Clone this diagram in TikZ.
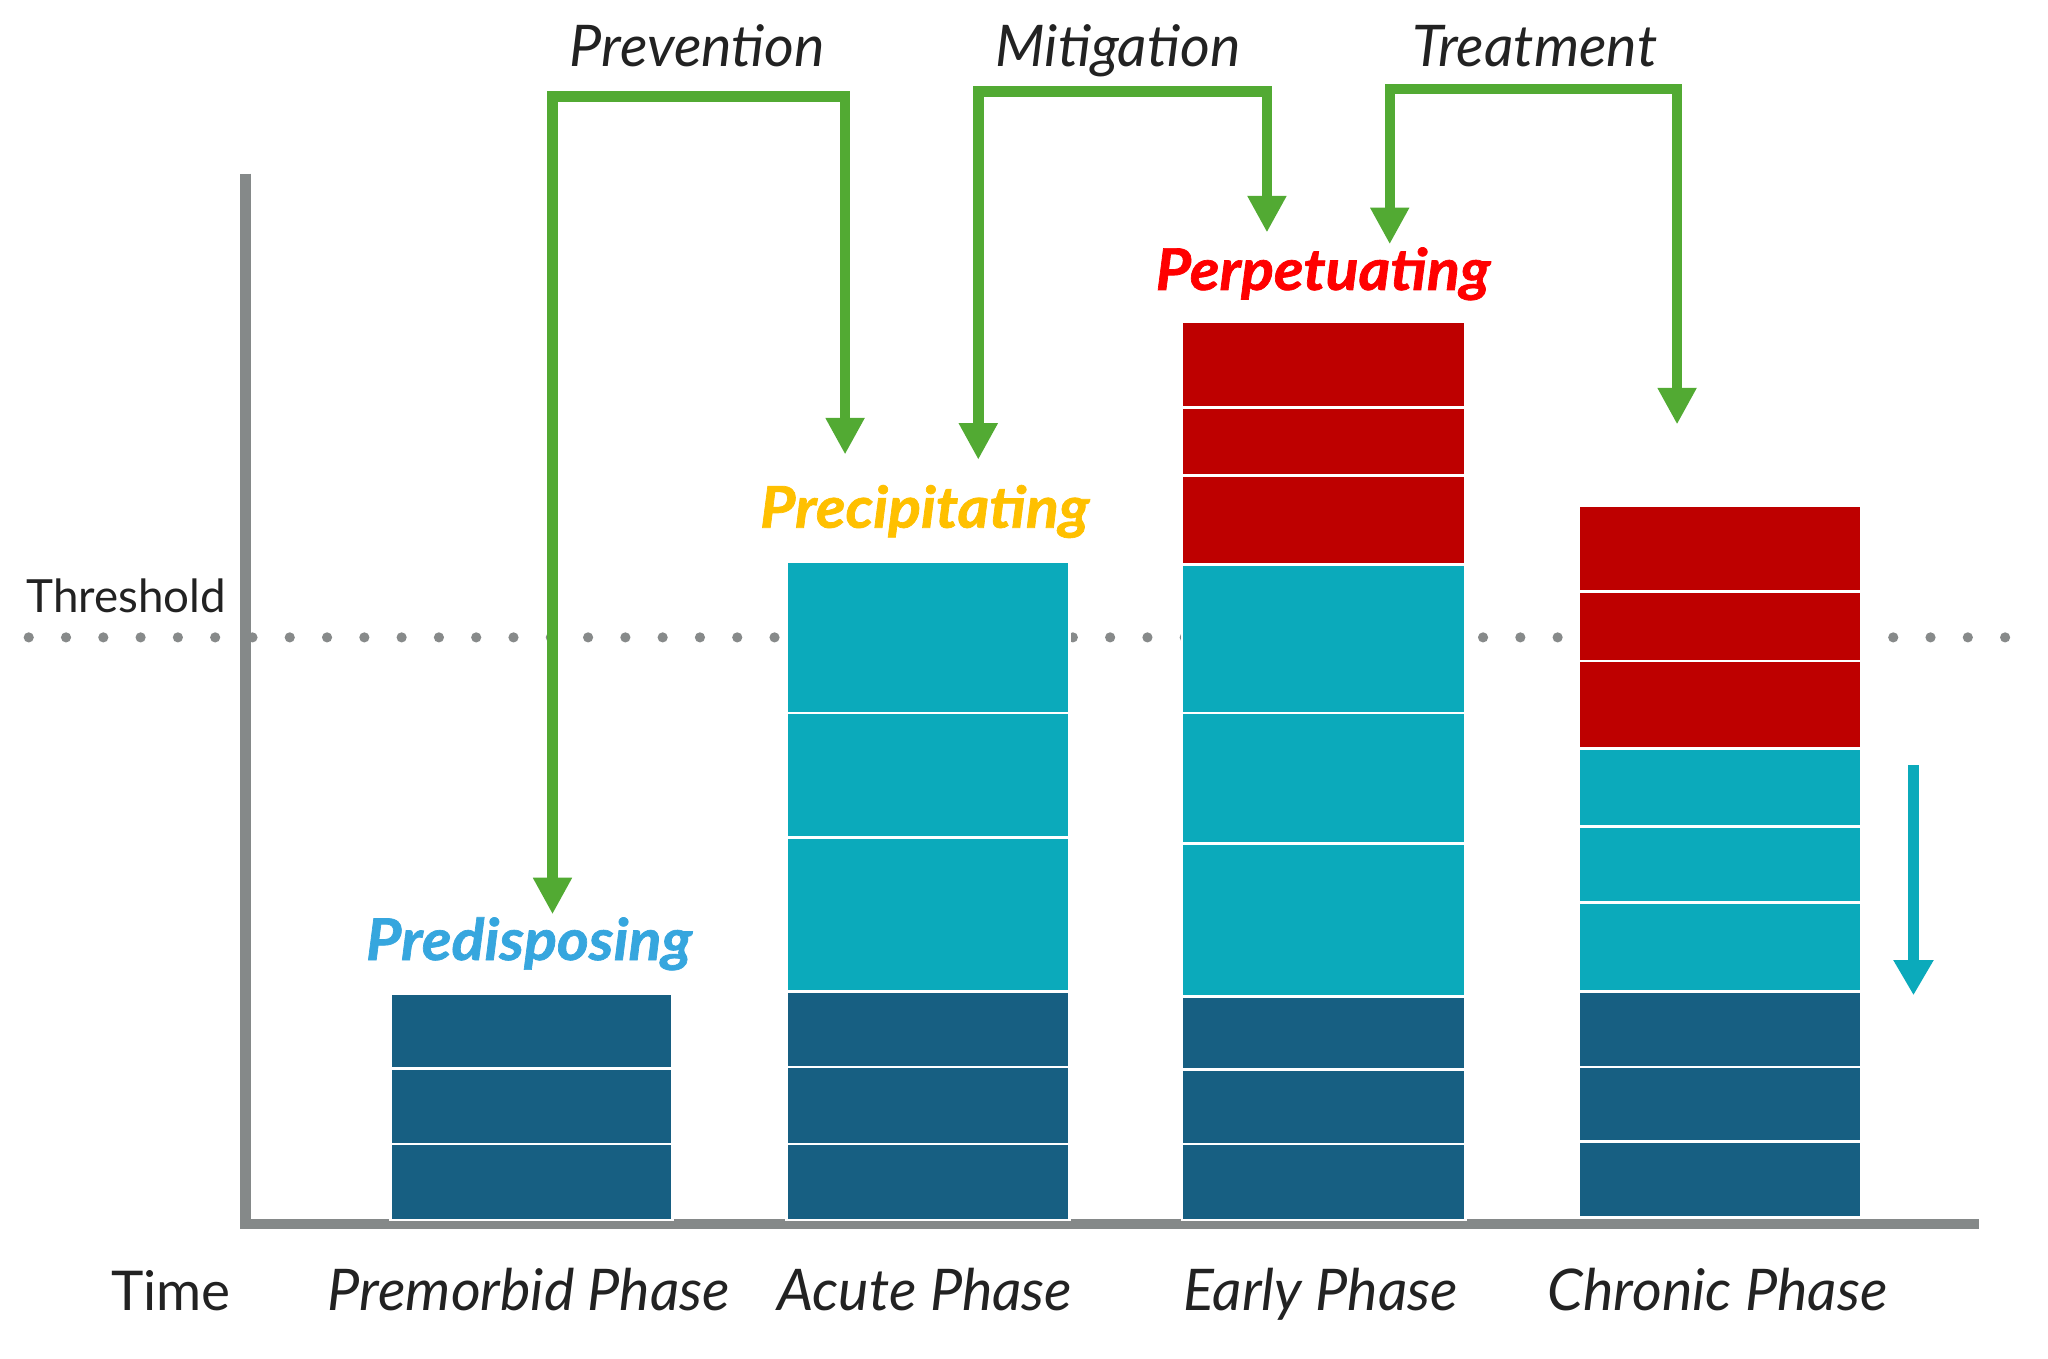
\documentclass[tikz,border=0pt]{standalone}
\usepackage{fontspec}
\setmainfont{Lato}
\newfontfamily\heavyfont[FakeStretch=1.06,FakeBold=1.2]{Lato}
\usetikzlibrary{arrows.meta}
\definecolor{darkblk}{HTML}{175F82}
\definecolor{tealblk}{HTML}{0BAABB}
\definecolor{redblk}{HTML}{BE0000}
\definecolor{arrowgreen}{HTML}{52AA33}
\definecolor{axisgray}{HTML}{858989}
\definecolor{dotgray}{HTML}{878A8A}
\definecolor{textdark}{HTML}{222222}
\definecolor{predblue}{HTML}{36A6DE}
\definecolor{precyellow}{HTML}{FFC000}
\definecolor{perpred}{HTML}{FF0000}
\begin{document}
\begin{tikzpicture}[x=1pt,y=-1pt,
  blk/.style={draw=white,line width=2pt},
  greenarrow/.style={draw=arrowgreen,line width=8pt,line join=miter,
    {Triangle[width=28pt,length=28pt]}-{Triangle[width=28pt,length=28pt]}},
  tealarrow/.style={draw=tealblk,line width=9pt,-{Triangle[width=29pt,length=27pt]}},
  axisline/.style={draw=axisgray,line width=8pt,line join=miter},
  toplabel/.style={font=\fontsize{44}{52}\selectfont\itshape,text=textdark,anchor=base,inner sep=0pt},
  phaselabel/.style={font=\fontsize{44}{52}\selectfont\itshape,text=textdark,anchor=base,inner sep=0pt},
  factorlabel/.style={font=\fontsize{44}{52}\selectfont\heavyfont\bfseries\itshape,anchor=base,inner sep=0pt},
  plainlabel/.style={text=textdark,anchor=base,inner sep=0pt}
]
\useasboundingbox (0,0) rectangle (1568,1040);
\fill[white] (0,0) rectangle (1568,1040);

% threshold dots
\foreach \k in {0,...,53} \fill[dotgray] (22+28.55*\k,488) circle (3.9);

% axes
\coordinate (axtop) at (188,133);
\coordinate (axorigin) at (188,937);
\coordinate (axright) at (1515,937);
\draw[axisline] (axtop) -- (axorigin) -- (axright);

% column 1
\foreach \a/\b/\c in {761/818/darkblk,818/876/darkblk,876/934/darkblk}
  \filldraw[blk,fill=\c] (299,\a) rectangle (515,\b);
% column 2
\foreach \a/\b/\c in {759/817/darkblk,817/876/darkblk,876/934/darkblk,
  430/546/tealblk,546/641/tealblk,641/759/tealblk}
  \filldraw[blk,fill=\c] (602,\a) rectangle (819,\b);
% column 3
\foreach \a/\b/\c in {763/819/darkblk,819/876/darkblk,876/934/darkblk,
  432/546/tealblk,546/646/tealblk,646/763/tealblk,
  246/312/redblk,312/364/redblk,364/432/redblk}
  \filldraw[blk,fill=\c] (905,\a) rectangle (1122,\b);
% column 4
\foreach \a/\b/\c in {759/817/darkblk,817/874/darkblk,874/932/darkblk,
  573/633/tealblk,633/691/tealblk,691/759/tealblk,
  387/453/redblk,453/506/redblk,506/573/redblk}
  \filldraw[blk,fill=\c] (1209,\a) rectangle (1425,\b);

% green brackets
\coordinate (prevA) at (423,700);
\coordinate (prevB) at (647,348);
\coordinate (mitA) at (749,352);
\coordinate (mitB) at (970,178);
\coordinate (treA) at (1064,187);
\coordinate (treB) at (1284,325);
\draw[greenarrow] (prevA) -- (423,74) -- (647,74) -- (prevB);
\draw[greenarrow] (mitA) -- (749,70) -- (970,70) -- (mitB);
\draw[greenarrow] (treA) -- (1064,68) -- (1284,68) -- (treB);

% teal down arrow
\coordinate (tdA) at (1465,586);
\coordinate (tdB) at (1465,762);
\draw[tealarrow] (tdA) -- (tdB);

% labels
\node[toplabel] (prevention) at (534,51) {Prevention};
\node[toplabel] (mitigation) at (856,51) {Mitigation};
\node[toplabel] (treatment) at (1175,51) {Treatment};

\node[factorlabel,text=perpred] (perp) at (1013,222) {Perpetuating};
\node[factorlabel,text=precyellow] (prec) at (708,404) {Precipitating};
\node[factorlabel,text=predblue] (pred) at (405,735) {Predisposing};

\node[plainlabel,anchor=base west,font=\fontsize{35}{42}\selectfont] (threshold) at (20,469) {Threshold};
\node[plainlabel,font=\fontsize{42}{50}\selectfont] (time) at (131,1003) {Time};

\node[phaselabel] (premorbid) at (405,1003) {Premorbid Phase};
\node[phaselabel] (acute) at (708,1003) {Acute Phase};
\node[phaselabel] (early) at (1011,1003) {Early Phase};
\node[phaselabel] (chronic) at (1315,1003) {Chronic Phase};
\end{tikzpicture}
\end{document}
